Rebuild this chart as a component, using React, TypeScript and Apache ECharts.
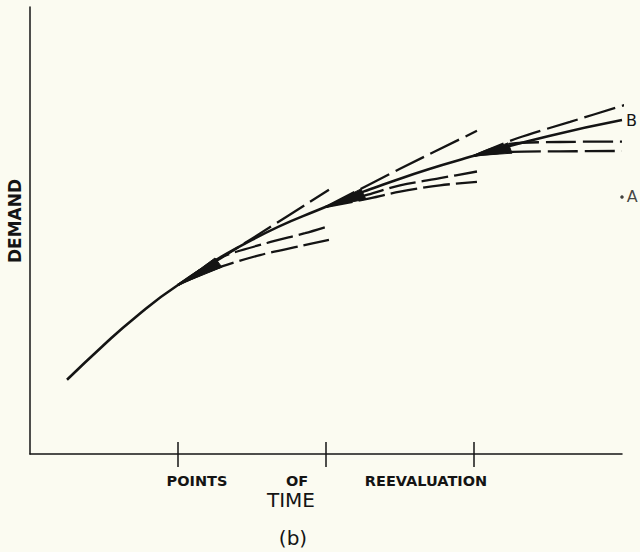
import React, { useEffect, useRef } from "react";
import * as echarts from "echarts";

// ---- data (x: time units, ticks at points of reevaluation; y: demand units) ----
const tickValues = [1, 2, 3];

const mainCurve = [
  [0.25, 16.6], [0.486, 24.0], [0.709, 30.5], [1.0, 37.8], [1.5, 47.9],
  [2.0, 55.3], [2.5, 61.6], [3.0, 66.7], [3.5, 71.1], [4.0, 74.7],
];

const upper1 = [[1.0, 37.8], [1.51, 48.4], [2.02, 59.1]];
const lowerA1 = [[1.0, 37.8], [1.284, 43.85], [1.601, 47.2], [1.858, 49.4], [2.02, 51.0]];
const lowerB1 = [[1.0, 37.8], [1.23, 41.2], [1.554, 44.5], [1.824, 46.5], [2.02, 47.9]];

const upper2 = [[2.0, 55.3], [2.5, 63.8], [3.02, 72.3]];
const lowerA2 = [[2.0, 55.3], [2.27, 57.9], [2.5, 60.1], [2.77, 61.7], [3.02, 63.2]];
const lowerB2 = [[2.0, 55.3], [2.27, 57.0], [2.5, 58.7], [2.77, 60.1], [3.02, 60.9]];

const upper3 = [[3.0, 66.7], [3.297, 70.7], [3.649, 74.3], [4.02, 78.1]];
const lowerA3 = [[3.0, 66.7], [3.243, 69.4], [3.58, 69.8], [4.0, 69.9]];
const lowerB3 = [[3.0, 66.7], [3.257, 67.6], [3.58, 67.7], [4.0, 67.8]];

// arrow wedges: tip x,y, base-upper x,y, base-lower x,y
const wedges = [
  [1.0, 37.8, 1.25, 43.85, 1.297, 41.8],
  [2.0, 55.3, 2.236, 59.3, 2.27, 57.0],
  [3.0, 66.7, 3.23, 69.6, 3.257, 67.3],
];

const pointA = [[4.0, 57.5]];

const xLabels = ["POINTS", "OF", "REEVALUATION"];
const xLabel2 = "TIME";
const yLabel = "DEMAND";
const caption = "(b)";

const INK = "#141414";
const BG = "#fbfbf1";

export default function App() {
  const ref = useRef<HTMLDivElement>(null);

  useEffect(() => {
    if (!ref.current) return;
    const chart = echarts.init(ref.current, undefined, { renderer: "svg" });

    const dashed = (data: number[][], dash: number[]) => ({
      type: "line",
      data,
      smooth: 0.3,
      showSymbol: false,
      symbol: "none",
      lineStyle: { color: INK, width: 2.3, type: dash },
      z: 3,
      silent: true,
    });

    const bold = "bold 14.5px 'DejaVu Sans'";
    const baseX = {
      type: "value",
      min: 0,
      max: 4,
      interval: 1,
      axisLabel: { show: false },
      splitLine: { show: false },
    };

    chart.setOption({
      animation: false,
      backgroundColor: BG,
      grid: { left: 30, top: 7, width: 592, height: 447 },
      xAxis: [
        {
          ...baseX,
          axisLine: { show: true, lineStyle: { color: INK, width: 1.5 } },
          axisTick: {
            show: true,
            customValues: tickValues,
            length: 13,
            inside: false,
            lineStyle: { color: INK, width: 1.5 },
          },
        },
        {
          ...baseX,
          position: "bottom",
          axisLine: { show: false },
          axisTick: {
            show: true,
            customValues: tickValues,
            length: 12,
            inside: true,
            lineStyle: { color: INK, width: 1.5 },
          },
        },
      ],
      yAxis: {
        type: "value",
        min: 0,
        max: 100,
        axisLine: { show: true, lineStyle: { color: INK, width: 1.5 } },
        axisTick: { show: false },
        axisLabel: { show: false },
        splitLine: { show: false },
      },
      series: [
        {
          type: "line",
          name: "B",
          data: mainCurve,
          smooth: 0.5,
          showSymbol: false,
          symbol: "none",
          lineStyle: { color: INK, width: 2.6 },
          endLabel: {
            show: true,
            formatter: "B",
            distance: 4,
            color: INK,
            fontFamily: "DejaVu Sans",
            fontSize: 16,
          },
          z: 4,
        },
        dashed(upper1, [32, 7]),
        dashed(lowerA1, [27, 6]),
        dashed(lowerB1, [27, 6]),
        dashed(upper2, [32, 7]),
        dashed(lowerA2, [27, 6]),
        dashed(lowerB2, [27, 6]),
        dashed(upper3, [32, 7]),
        dashed(lowerA3, [30, 7]),
        dashed(lowerB3, [30, 7]),
        {
          type: "custom",
          data: wedges,
          z: 5,
          silent: true,
          renderItem: (params: any, api: any) => {
            const p0 = api.coord([api.value(0), api.value(1)]);
            const p1 = api.coord([api.value(2), api.value(3)]);
            const p2 = api.coord([api.value(4), api.value(5)]);
            return {
              type: "polygon",
              shape: { points: [p0, p1, p2] },
              style: { fill: INK, stroke: INK, lineWidth: 1 },
            };
          },
        },
        {
          type: "scatter",
          data: pointA,
          symbolSize: 3.5,
          itemStyle: { color: INK },
          clip: false,
          label: {
            show: true,
            position: "right",
            distance: 3,
            formatter: "A",
            color: INK,
            fontFamily: "DejaVu Sans",
            fontSize: 16,
          },
        },
      ],
      graphic: [
        {
          type: "text",
          x: 15,
          y: 221,
          rotation: Math.PI / 2,
          style: {
            text: yLabel,
            font: "bold 17px 'DejaVu Sans'",
            fill: INK,
            align: "center",
            verticalAlign: "middle",
          },
        },
        {
          type: "text",
          x: 197,
          y: 481,
          style: { text: xLabels[0], font: bold, fill: INK, align: "center", verticalAlign: "middle" },
        },
        {
          type: "text",
          x: 297,
          y: 481,
          style: { text: xLabels[1], font: bold, fill: INK, align: "center", verticalAlign: "middle" },
        },
        {
          type: "text",
          x: 426,
          y: 481,
          style: { text: xLabels[2], font: bold, fill: INK, align: "center", verticalAlign: "middle" },
        },
        {
          type: "text",
          x: 291,
          y: 500,
          style: { text: xLabel2, font: "20px 'DejaVu Sans'", fill: INK, align: "center", verticalAlign: "middle" },
        },
        {
          type: "text",
          x: 293,
          y: 538,
          style: { text: caption, font: "20px 'DejaVu Sans'", fill: INK, align: "center", verticalAlign: "middle" },
        },
      ],
    });

    return () => chart.dispose();
  }, []);

  return (
    <div
      ref={ref}
      style={{ position: "fixed", left: 0, top: 0, width: 640, height: 552, background: BG }}
    />
  );
}
